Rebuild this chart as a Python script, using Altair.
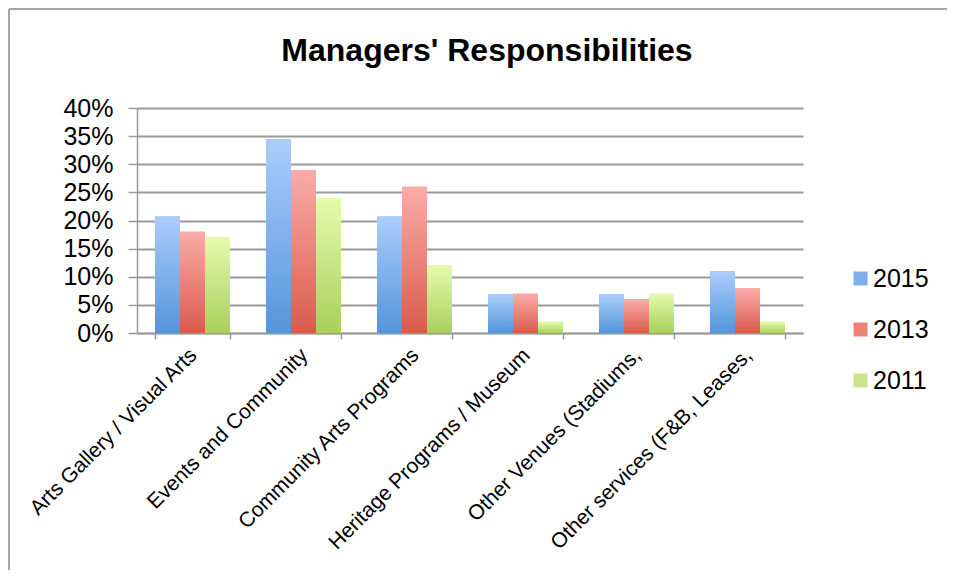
import altair as alt
import pandas as pd

categories = [
    "Arts Gallery / Visual Arts",
    "Events and Community",
    "Community Arts Programs",
    "Heritage Programs / Museum",
    "Other Venues (Stadiums,",
    "Other services (F&B, Leases,",
]
years = ["2015", "2013", "2011"]
v2015 = [0.207, 0.345, 0.207, 0.069, 0.069, 0.110]
v2013 = [0.18, 0.29, 0.26, 0.07, 0.06, 0.08]
v2011 = [0.17, 0.24, 0.12, 0.02, 0.07, 0.02]
y_ticks = [0, 0.05, 0.10, 0.15, 0.20, 0.25, 0.30, 0.35, 0.40]

legend_colors = ["#7fb0ee", "#ee827b", "#c9e58a"]
grad_stops = {
    "2015": ("#abcdfc", "#5495da"),
    "2013": ("#faaca8", "#da5a4d"),
    "2011": ("#e4fbac", "#a9cf5c"),
}

rows = []
for yr, vals in zip(years, [v2015, v2013, v2011]):
    for c, v in zip(categories, vals):
        rows.append({"Category": c, "Year": yr, "Value": v})
df = pd.DataFrame(rows)

FONT = "Liberation Sans"

x_enc = alt.X(
    "Category:N",
    sort=categories,
    scale=alt.Scale(paddingInner=0.324, paddingOuter=0.162),
    axis=alt.Axis(
        title=None,
        labelAngle=-45,
        labelAlign="right",
        labelBaseline="top",
        labelFontSize=21,
        labelFont=FONT,
        labelColor="#000000",
        labelPadding=5,
        labelOffset=-7,
        labelLimit=400,
        labelOverlap=False,
        tickBand="extent",
        tickSize=6,
        tickColor="#999999",
        tickWidth=1.5,
        domainColor="#999999",
        domainWidth=1.5,
        grid=False,
    ),
)
y_enc = alt.Y(
    "Value:Q",
    scale=alt.Scale(domain=[0, 0.4], nice=False),
    axis=alt.Axis(
        title=None,
        values=y_ticks,
        tickCount=9,
        format=".0%",
        labelFontSize=25,
        labelFont=FONT,
        labelColor="#000000",
        labelPadding=15,
        labelOverlap=False,
        tickSize=9,
        tickColor="#999999",
        tickWidth=1.5,
        domainColor="#999999",
        domainWidth=1.5,
        grid=True,
        gridColor="#999999",
        gridWidth=1.8,
    ),
)
xoff = alt.XOffset("Year:N", sort=years, scale=alt.Scale(domain=years, paddingInner=0, paddingOuter=0))

base = alt.Chart(df).mark_bar().encode(
    x=x_enc,
    y=y_enc,
    xOffset=xoff,
    color=alt.Color(
        "Year:N",
        sort=years,
        scale=alt.Scale(domain=years, range=legend_colors),
        legend=alt.Legend(
            title=None,
            orient="none",
            legendX=711,
            legendY=158,
            labelFontSize=25,
            labelFont=FONT,
            labelColor="#000000",
            symbolType="square",
            symbolSize=196,
            symbolStrokeWidth=0,
            rowPadding=25,
            labelOffset=0,
        ),
    ),
)

layers = [base]
for yr in years:
    top, bottom = grad_stops[yr]
    grad = alt.Gradient(
        gradient="linear",
        x1=0, x2=0, y1=0, y2=1,
        stops=[alt.GradientStop(color=top, offset=0), alt.GradientStop(color=bottom, offset=1)],
    )
    layers.append(
        alt.Chart(df)
        .transform_filter(alt.datum.Year == yr)
        .mark_bar(fill=grad)
        .encode(x=x_enc, y=y_enc, xOffset=xoff)
    )

frame_df = pd.DataFrame({"k": [0]})
left_border = alt.Chart(frame_df).mark_rule(color="#a6a6a6", strokeWidth=2).encode(
    x=alt.value(-128), y=alt.value(-99), y2=alt.value(462)
)
top_border = alt.Chart(frame_df).mark_rule(color="#a6a6a6", strokeWidth=2).encode(
    x=alt.value(-128), x2=alt.value(810), y=alt.value(-99)
)

chart = (
    alt.layer(*layers, left_border, top_border)
    .properties(
        width=666,
        height=225,
        title=alt.TitleParams(
            "Managers' Responsibilities",
            fontSize=32,
            fontWeight="bold",
            font=FONT,
            color="#000000",
            anchor="middle",
            baseline="alphabetic",
            dx=17,
            offset=0,
            dy=85,
        ),
        autosize=alt.AutoSizeParams(type="none"),
        padding={"left": 129, "top": 100, "right": 144, "bottom": 237},
    )
    .configure_view(stroke=None)
)

chart.save("out.html", embed_options={"renderer": "svg", "actions": False})
